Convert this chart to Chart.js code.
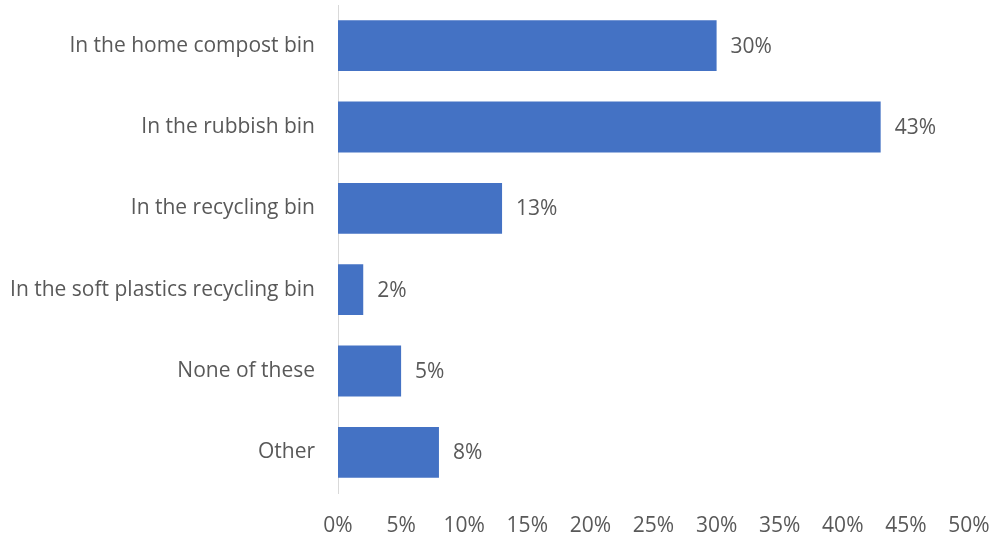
<!DOCTYPE html>
<html>
<head>
<meta charset="utf-8">
<script src="https://cdn.jsdelivr.net/npm/chart.js@4/dist/chart.umd.min.js"></script>
<style>
  html, body { margin: 0; padding: 0; background: #fff; }
  #wrap { width: 992px; height: 540px; }
</style>
</head>
<body>
<div id="wrap"><canvas id="binChart"></canvas></div>
<script>
const categories = [
  "In the home compost bin",
  "In the rubbish bin",
  "In the recycling bin",
  "In the soft plastics recycling bin",
  "None of these",
  "Other"
];
const shares = [30, 43, 13, 2, 5, 8];
const tickValues = [0, 5, 10, 15, 20, 25, 30, 35, 40, 45, 50];

const textColor = "#595959";
const fontFamily = "'Open Sans', sans-serif";
const fontSize = 21;

// value labels just past the end of each bar
const valueLabels = {
  id: "valueLabels",
  afterDatasetsDraw(chart) {
    const ctx = chart.ctx;
    const meta = chart.getDatasetMeta(0);
    ctx.save();
    ctx.font = fontSize + "px " + fontFamily;
    ctx.fillStyle = textColor;
    ctx.textAlign = "left";
    ctx.textBaseline = "middle";
    meta.data.forEach((bar, i) => {
      ctx.fillText(shares[i] + "%", bar.x + 14, bar.y + 1);
    });
    ctx.restore();
  }
};

new Chart(document.getElementById("binChart"), {
  type: "bar",
  data: {
    labels: categories,
    datasets: [{
      data: shares,
      backgroundColor: "#4472C4",
      borderWidth: 0,
      categoryPercentage: 1,
      barPercentage: 0.625
    }]
  },
  options: {
    indexAxis: "y",
    responsive: true,
    maintainAspectRatio: false,
    animation: false,
    layout: { padding: { top: 5, right: 23, left: 0, bottom: 0 } },
    plugins: {
      legend: { display: false },
      tooltip: { enabled: false }
    },
    scales: {
      x: {
        min: 0,
        max: 50,
        afterBuildTicks(axis) {
          axis.ticks = tickValues.map(v => ({ value: v }));
        },
        grid: { display: false, drawTicks: false },
        border: { display: false },
        ticks: {
          padding: 20,
          color: textColor,
          font: { size: fontSize, family: fontFamily },
          callback: v => v + "%"
        },
        afterFit(axis) {
          axis.height = 47;
          axis.paddingLeft = 0;
          axis.paddingRight = 0;
        }
      },
      y: {
        grid: { display: false, drawTicks: false },
        border: { display: true, color: "#d9d9d9", width: 1 },
        ticks: {
          padding: 23,
          color: textColor,
          font: { size: fontSize, family: fontFamily }
        },
        afterFit(axis) {
          axis.width = 338;
          axis.paddingTop = 0;
          axis.paddingBottom = 0;
        }
      }
    }
  },
  plugins: [valueLabels]
});
</script>
</body>
</html>
